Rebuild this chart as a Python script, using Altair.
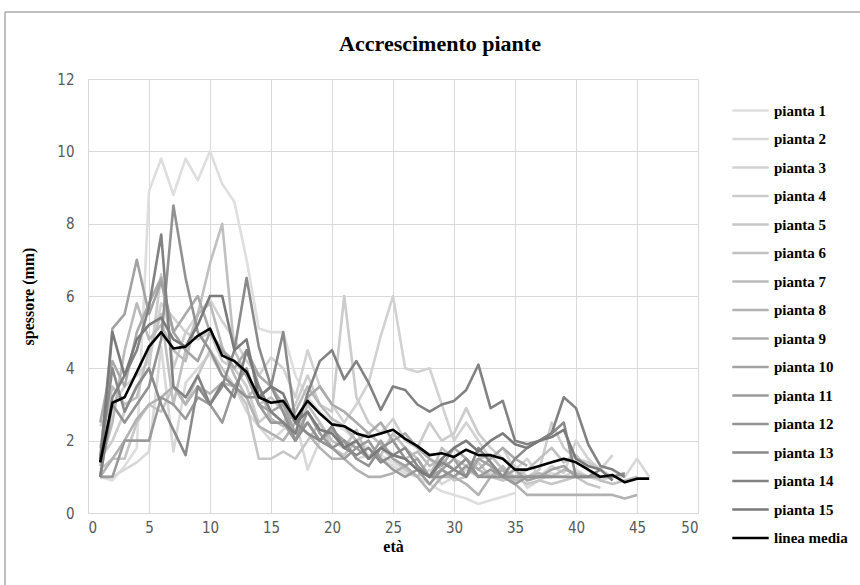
import altair as alt
import pandas as pd

eta = list(range(1, 47))

pianta_1 = [1.0, 0.9, 1.3, 1.8, 8.9, 9.8, 8.8, 9.8, 9.2, 10.0,
            9.1, 8.6, 7.0, 5.1, 5.0, 5.0, 3.8, 3.2, 2.8, 2.5,
            2.3, 2.0, 1.8, 1.6, 1.4, 1.2, 1.0, 0.8, 0.6, 0.5,
            0.4, 0.25, 0.35, 0.45, 0.55]
pianta_2 = [1.0, 1.0, 1.2, 1.4, 1.7, 4.6, 1.7, 3.6, 4.0, 4.4,
            3.8, 3.5, 2.8, 2.4, 2.0, 2.3, 2.6, 1.2, 2.0, 2.2,
            1.9, 1.5, 1.6, 1.5, 1.3, 1.1, 1.0, 1.2, 0.8, 1.0,
            1.2, 1.0, 1.1, 0.9, 1.2, 0.7, 0.9, 1.1, 1.0, 1.2,
            1.0, 0.9, 1.0, 1.0, 1.5, 1.0]
pianta_3 = [2.4, 3.0, 3.5, 3.8, 4.2, 5.8, 5.4, 5.0, 5.5, 5.9,
            5.3, 4.8, 4.2, 3.8, 4.3, 4.0, 3.2, 4.5, 3.5, 3.0,
            2.5, 3.0, 3.6, 4.9, 6.0, 4.0, 3.9, 4.0, 3.0, 2.0,
            2.5, 2.0, 1.5, 1.8, 1.2, 1.5, 1.0, 1.3, 1.1, 2.0,
            1.5, 1.2, 1.6]
pianta_4 = [1.5, 2.0, 2.8, 3.5, 4.0, 6.6, 4.0, 5.0, 4.8, 5.0,
            4.2, 4.0, 3.5, 2.5, 2.8, 2.5, 3.0, 3.8, 3.0, 2.8,
            6.0, 3.2, 2.5, 2.2, 2.6, 2.0, 1.8, 2.5, 2.0, 2.2,
            2.9, 2.2, 1.8, 1.5, 1.3, 1.0, 1.2, 2.5, 1.8, 1.5,
            1.4, 1.2, 1.0, 1.1]
pianta_5 = [1.2, 1.5, 1.5, 2.5, 3.0, 2.8, 3.5, 3.0, 3.8, 4.5,
            4.0, 3.5, 3.0, 1.5, 1.5, 1.7, 1.5, 2.0, 2.5, 1.8,
            1.6, 2.0, 1.5, 1.8, 1.5, 1.2, 1.0, 1.5, 1.2, 0.9,
            1.0, 1.4, 1.0, 0.9, 1.0, 0.8, 0.9, 0.8, 0.9, 1.0,
            0.8, 0.7]
pianta_6 = [1.8, 3.5, 3.0, 3.2, 4.5, 5.5, 3.0, 4.5, 5.5, 6.9,
            8.0, 4.5, 3.8, 3.0, 3.2, 2.8, 2.0, 3.0, 2.5, 2.0,
            1.8, 2.3, 1.5, 1.6, 2.2, 1.8, 1.5, 1.0, 1.8, 1.5,
            1.3, 1.5, 1.6, 1.2, 1.0, 1.2, 1.5, 1.8, 1.4, 1.6,
            1.2, 0.9, 0.8, 0.9, 1.0]
pianta_7 = [1.3, 2.5, 4.5, 5.8, 4.8, 5.2, 4.5, 4.2, 5.5, 5.8,
            4.6, 3.8, 3.2, 3.5, 2.6, 2.4, 2.8, 3.5, 3.0, 2.6,
            2.4, 2.0, 2.2, 1.9, 1.6, 1.5, 1.7, 1.3, 1.5, 1.2,
            1.5, 1.2, 1.0, 1.3, 0.9, 1.0, 1.1, 1.0, 1.2, 1.1,
            1.0]
pianta_8 = [1.0, 1.5, 2.0, 2.6, 3.0, 3.2, 3.5, 3.0, 3.5, 3.3,
            3.6, 3.5, 3.2, 2.4, 2.2, 2.0, 2.5, 2.2, 1.8, 1.5,
            1.5, 1.2, 1.0, 1.0, 1.1, 1.3, 1.0, 0.6, 1.0, 1.0,
            0.8, 0.5, 1.0, 1.2, 0.8, 0.5, 0.5, 0.5, 0.5, 0.5,
            0.5, 0.5, 0.5, 0.4, 0.5]
pianta_9 = [2.5, 4.2, 3.5, 5.0, 5.8, 6.5, 5.0, 5.5, 6.0, 5.0,
            4.5, 4.0, 4.5, 3.8, 3.5, 3.0, 2.5, 3.2, 3.5, 3.0,
            2.8, 2.5, 2.2, 2.5, 2.0, 2.2, 1.8, 1.5, 1.3, 1.8,
            1.5, 1.2, 1.5, 1.8, 1.5, 1.3]
pianta_10 = [1.5, 5.1, 5.5, 7.0, 5.5, 6.4, 5.0, 4.5, 4.2, 5.0,
             4.5, 4.2, 3.8, 3.0, 2.8, 3.0, 2.2, 2.5, 2.0, 2.3,
             2.0, 1.8, 1.5, 2.0, 1.5, 1.3, 1.5, 1.0, 1.2, 1.5,
             1.0, 1.5, 1.3, 1.0, 1.2, 0.9, 1.0, 1.2, 1.3, 1.0]
pianta_11 = [1.0, 1.0, 2.0, 2.0, 2.0, 3.2, 3.0, 2.6, 3.2, 3.0,
             2.5, 3.5, 4.0, 3.0, 2.5, 2.5, 2.0, 2.8, 2.2, 1.8,
             1.5, 1.8, 2.0, 1.5, 1.2, 1.0, 1.2, 0.8, 1.2, 1.0,
             1.3, 1.0, 1.2, 1.0, 0.8, 1.0, 1.0, 1.0]
pianta_12 = [1.0, 3.0, 2.5, 3.0, 3.5, 4.8, 8.5, 6.5, 5.0, 4.5,
             3.8, 3.5, 3.2, 3.2, 3.5, 2.8, 2.0, 2.5, 2.0, 1.8,
             2.0, 1.5, 1.3, 1.8, 2.0, 1.5, 1.2, 1.0, 1.0, 1.2,
             1.5, 1.0, 1.0, 1.0, 1.0, 1.0, 1.0, 1.0, 1.0, 1.0,
             1.0, 1.0, 1.0, 1.1]
pianta_13 = [1.5, 4.0, 2.8, 3.5, 4.0, 3.0, 2.3, 1.6, 3.5, 3.0,
             3.5, 4.5, 6.5, 4.6, 3.5, 5.0, 2.5, 2.2, 2.0, 2.4,
             1.8, 1.6, 1.8, 1.4, 1.6, 1.8, 1.3, 1.0, 1.4, 1.2,
             1.0, 1.8, 1.4, 1.0, 1.5, 1.8, 2.0, 2.2, 2.5, 1.0,
             1.0, 1.2]
pianta_14 = [1.0, 3.2, 3.8, 4.5, 5.7, 7.7, 3.5, 3.2, 3.8, 3.0,
             3.6, 3.2, 4.5, 3.5, 2.8, 2.5, 2.2, 3.3, 4.2, 4.5,
             3.7, 4.2, 3.6, 2.85, 3.5, 3.4, 3.0, 2.8, 3.0, 3.1,
             3.4, 4.1, 2.9, 3.1, 2.0, 1.9, 2.0, 2.2, 3.2, 2.9,
             1.9, 1.3, 1.2, 1.0]
pianta_15 = [1.4, 5.0, 3.8, 4.8, 5.2, 5.4, 4.8, 4.6, 5.2, 6.0,
             6.0, 4.5, 4.8, 3.2, 3.5, 3.3, 2.5, 2.8, 2.3, 2.2,
             1.8, 2.0, 1.5, 1.8, 1.6, 1.5, 1.2, 1.0, 1.5, 1.8,
             2.0, 1.7, 2.0, 2.2, 1.9, 1.8, 2.0, 2.1, 2.3, 1.5,
             1.3, 1.2, 0.9]
linea_media = [1.4, 3.05, 3.2, 3.9, 4.6, 5.0, 4.55, 4.6, 4.9, 5.1,
               4.35, 4.2, 3.9, 3.2, 3.05, 3.1, 2.6, 3.1, 2.75, 2.45,
               2.4, 2.2, 2.1, 2.2, 2.3, 2.05, 1.85, 1.6, 1.65, 1.55,
               1.75, 1.6, 1.6, 1.5, 1.2, 1.2, 1.3, 1.4, 1.5, 1.4,
               1.2, 1.0, 1.05, 0.85, 0.95, 0.95]

serie_nomi = [f"pianta {i}" for i in range(1, 16)] + ["linea media"]
serie_valori = [pianta_1, pianta_2, pianta_3, pianta_4, pianta_5, pianta_6,
                pianta_7, pianta_8, pianta_9, pianta_10, pianta_11, pianta_12,
                pianta_13, pianta_14, pianta_15, linea_media]

grigi = [222, 216, 210, 204, 198, 192, 186, 178, 170, 162, 154, 146, 138, 130, 122]
colori = ["#%02x%02x%02x" % (g, g, g) for g in grigi] + ["#000000"]
spessori_linea = [2.6] * 15 + [4.0]

rows = []
for nome, valori in zip(serie_nomi, serie_valori):
    for e, v in zip(eta, valori):
        rows.append({"eta": e, "spessore": v, "serie": nome})
df = pd.DataFrame(rows)

serif = "Liberation Serif"
narrow = "Liberation Sans Narrow, DejaVu Sans Condensed, sans-serif"


def legenda():
    return alt.Legend(
        title=None, orient="none", legendX=647, legendY=16,
        symbolType="M-1.3,0L1.3,0", symbolSize=784, symbolStrokeWidth=3,
        labelFont=serif, labelFontWeight="bold", labelFontSize=15,
        labelColor="#000000", labelOffset=8, rowPadding=4.5,
        labelLimit=200,
    )


color = alt.Color("serie:N", scale=alt.Scale(domain=serie_nomi, range=colori),
                  legend=legenda())
width_enc = alt.StrokeWidth("serie:N",
                            scale=alt.Scale(domain=serie_nomi, range=spessori_linea),
                            legend=legenda())

x = alt.X(
    "eta:Q",
    scale=alt.Scale(domain=[0, 50], nice=False),
    axis=alt.Axis(
        values=list(range(0, 51, 5)), title="età", ticks=False,
        labelFont=narrow, labelFontSize=15, labelColor="#595959", labelPadding=7,
        titleFont=serif, titleFontWeight="bold", titleFontSize=16,
        titleColor="#000000", titlePadding=3,
        gridColor="#d9d9d9", domainColor="#d9d9d9",
    ),
)
y = alt.Y(
    "spessore:Q",
    scale=alt.Scale(domain=[0, 12], nice=False),
    axis=alt.Axis(
        values=list(range(0, 13, 2)), title="spessore (mm)", ticks=False,
        labelFont=narrow, labelFontSize=15, labelColor="#595959", labelPadding=14,
        titleFont=serif, titleFontWeight="bold", titleFontSize=16,
        titleColor="#000000", titlePadding=20,
        gridColor="#d9d9d9", domainColor="#d9d9d9",
    ),
)

piante = (
    alt.Chart(df)
    .transform_filter(alt.datum.serie != "linea media")
    .mark_line(strokeJoin="round")
    .encode(x=x, y=y, color=color, strokeWidth=width_enc)
)
media = (
    alt.Chart(df)
    .transform_filter(alt.datum.serie == "linea media")
    .mark_line(strokeJoin="round")
    .encode(x=x, y=y, color=color, strokeWidth=width_enc)
)

cornice_df = pd.DataFrame({"k": [0]})
bordo_sx = alt.Chart(cornice_df).mark_rule(color="#808080", strokeWidth=1).encode(
    x=alt.value(-83), y=alt.value(-67), y2=alt.value(506)
)
bordo_su = alt.Chart(cornice_df).mark_rule(color="#808080", strokeWidth=1).encode(
    y=alt.value(-67), x=alt.value(-83), x2=alt.value(772)
)

chart = (
    alt.layer(piante, media, bordo_sx, bordo_su)
    .properties(
        width=610,
        height=434,
        autosize=alt.AutoSizeParams(type="none"),
        padding={"left": 88, "top": 79, "right": 162, "bottom": 72},
        title=alt.TitleParams(
            "Accrescimento piante", font=serif, fontSize=22, fontWeight="bold",
            color="#000000", anchor="middle", frame="group", dx=47, offset=22,
            dy=66,
        ),
        background="white",
    )
    .configure_view(strokeWidth=0)
)

chart.save("out.html", embed_options={"renderer": "svg", "actions": False})
